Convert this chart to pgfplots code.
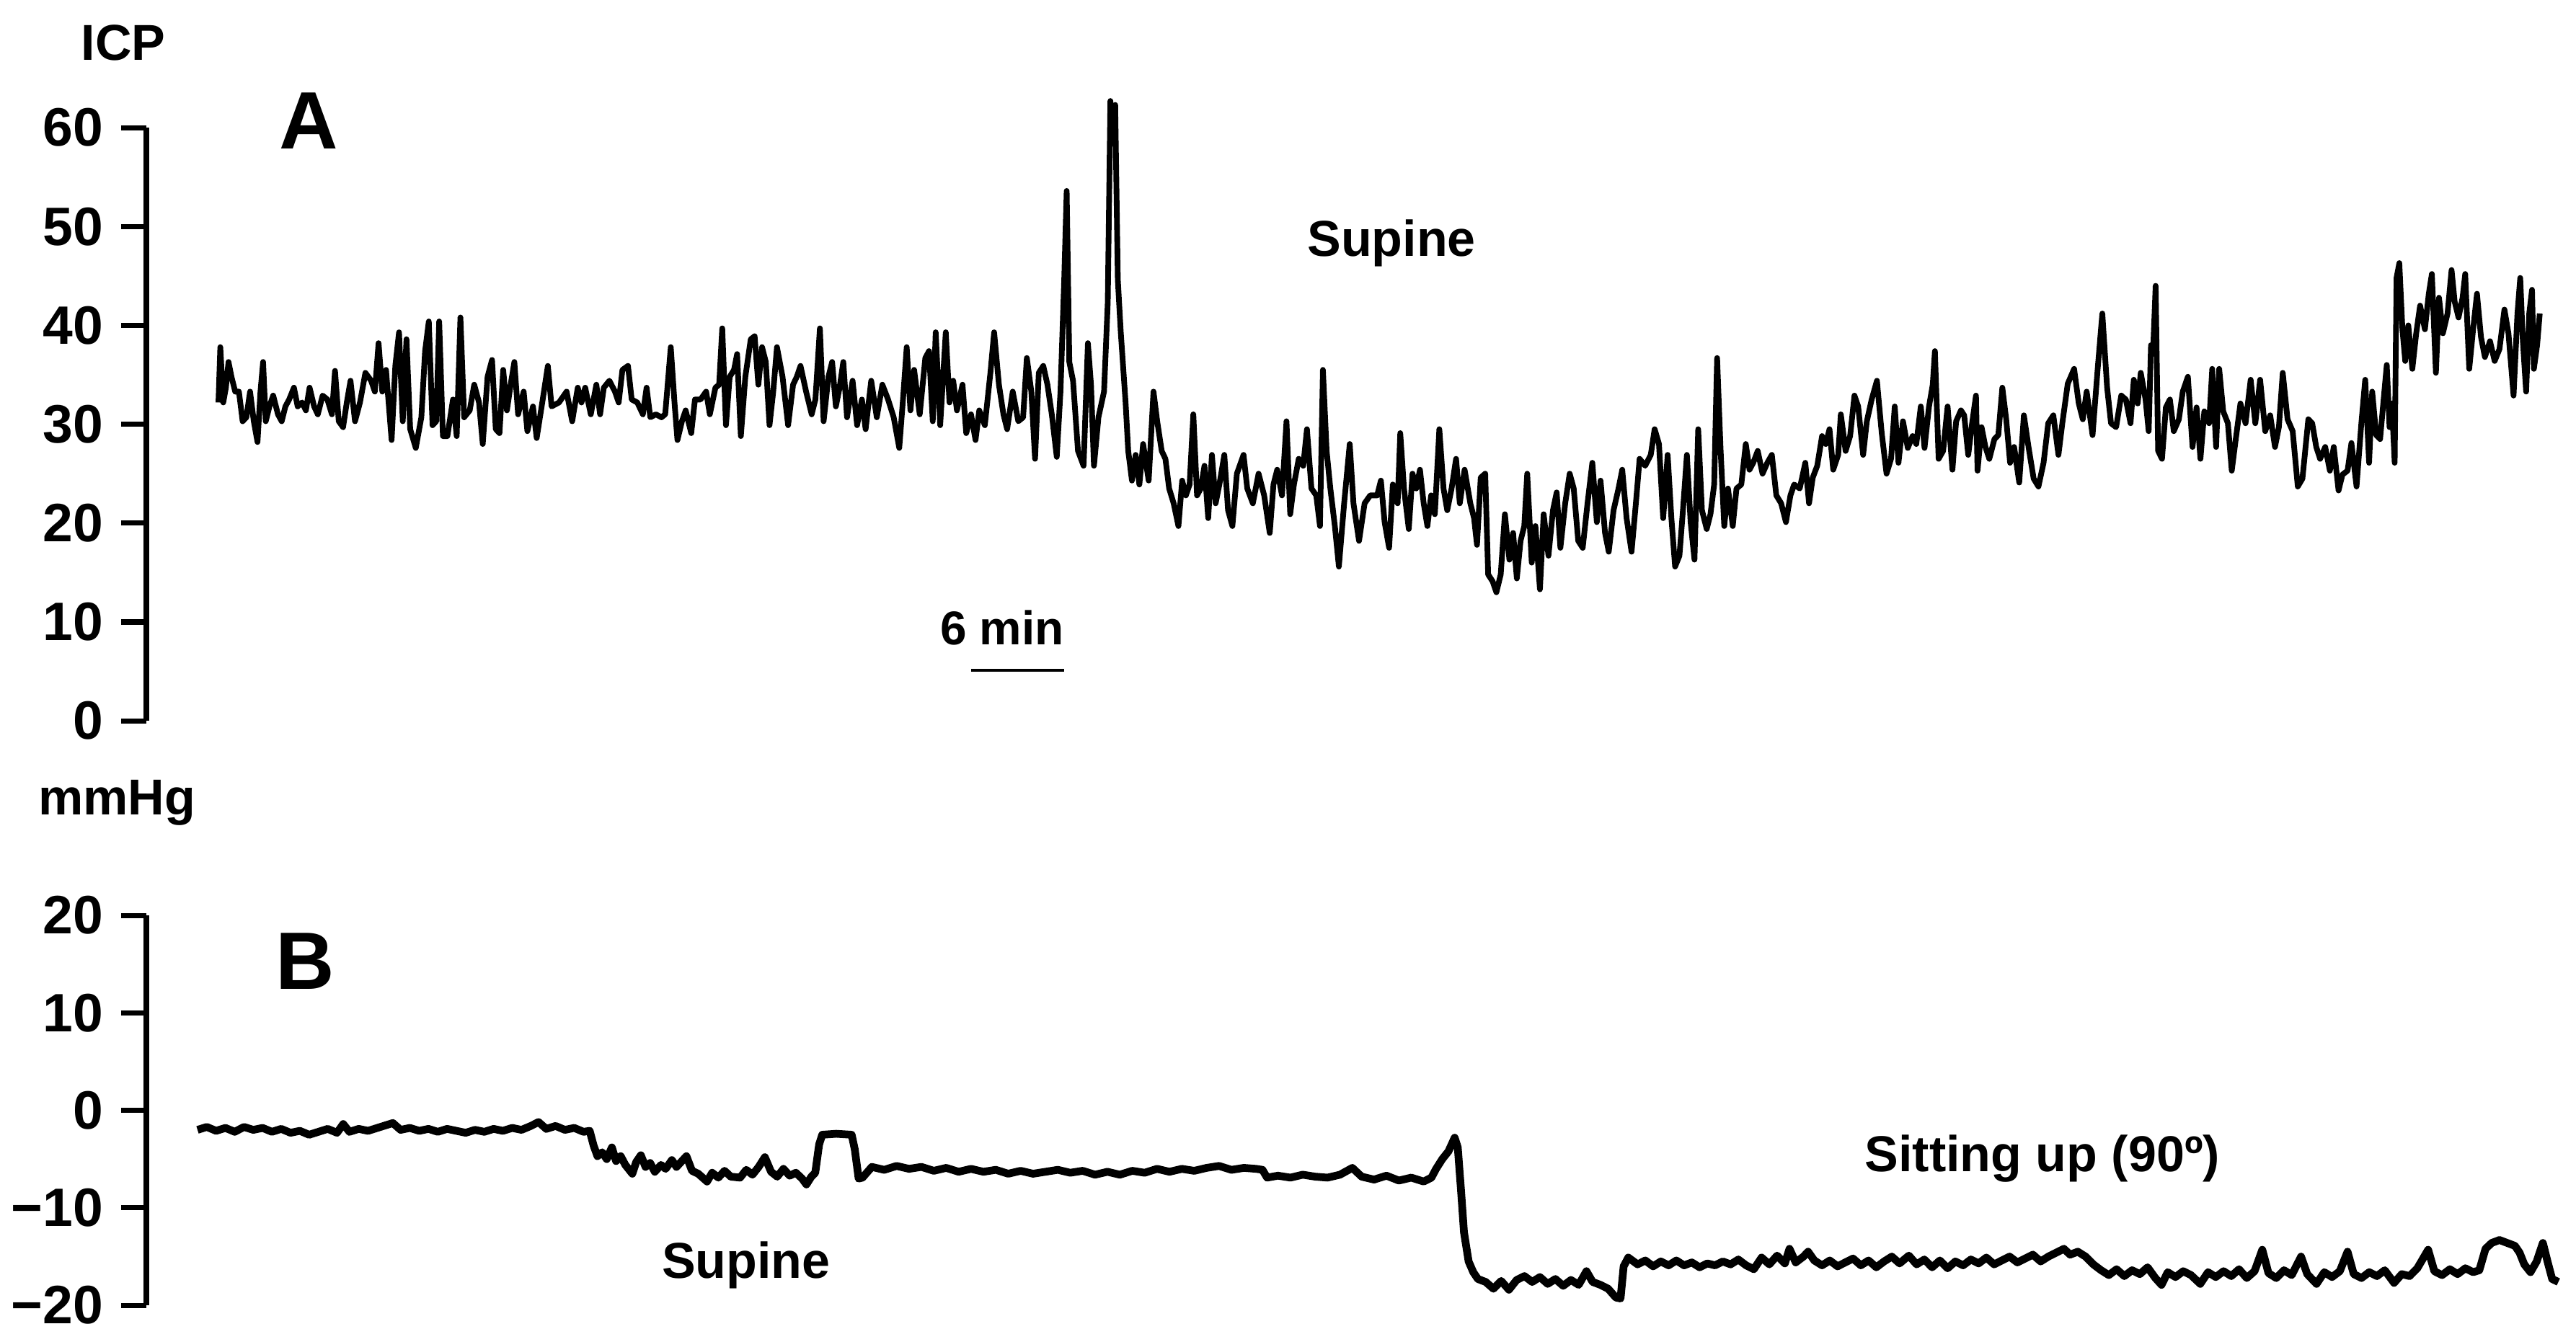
\documentclass[border=0pt]{standalone}
\usepackage{fontspec}
\setmainfont{Liberation Sans}
\usepackage{pgfplots}
\pgfplotsset{compat=1.18}
\begin{document}
\begin{tikzpicture}
\path[use as bounding box] (0,0) rectangle (500pt,260.44pt);
% ---------------- Panel A : ICP supine ----------------
\begin{axis}[
  at={(28.41pt,120.49pt)}, anchor=south west,
  scale only axis, width=471.59pt, height=115.17pt,
  xmin=0, xmax=156.74, ymin=0, ymax=60,
  axis x line=none, axis y line=left,
  y axis line style={-, line width=1pt},
  xtick=\empty,
  ytick={0,10,20,30,40,50,60}, yticklabels={0,10,20,30,40,50,60},
  tick align=outside, major tick length=4.9pt,
  every tick/.style={line width=1pt, black},
  yticklabel style={font=\fontsize{10.5}{12}\selectfont\bfseries, anchor=east, inner sep=0pt, xshift=-3.3pt},
  clip=false,
]
\addplot[black, line width=1.1pt, line join=round] table {
4.65 32.2
4.77 37.8
4.96 32.2
5.13 33.7
5.30 36.3
5.49 34.8
5.73 33.3
5.97 33.3
6.21 30.3
6.45 30.7
6.69 33.3
6.93 30.3
7.17 28.2
7.36 33.3
7.53 36.3
7.70 30.3
7.94 31.8
8.18 32.9
8.49 31.0
8.73 30.3
8.97 31.8
9.21 32.5
9.52 33.7
9.76 31.8
10.05 32.2
10.29 31.4
10.53 33.7
10.82 31.8
11.06 31.0
11.37 32.9
11.68 32.5
11.97 31.0
12.17 35.4
12.41 30.3
12.69 29.7
12.93 32.2
13.17 34.4
13.46 30.3
13.78 32.2
14.13 35.2
14.50 34.4
14.74 33.3
14.98 38.2
15.22 33.3
15.46 35.5
15.82 28.4
16.06 35.9
16.30 39.3
16.54 30.3
16.78 38.6
17.02 29.5
17.38 27.6
17.74 30.7
17.98 37.4
18.22 40.4
18.46 29.9
18.70 30.3
18.89 40.4
19.13 28.8
19.42 28.8
19.78 32.5
20.02 28.8
20.26 40.8
20.50 30.7
20.86 31.4
21.15 34.0
21.46 32.2
21.70 28.0
22.01 34.8
22.30 36.5
22.54 29.5
22.78 29.1
23.02 35.5
23.26 31.4
23.50 34.0
23.74 36.3
23.98 31.0
24.34 33.3
24.58 29.3
24.94 31.8
25.18 28.6
25.54 32.2
25.90 35.9
26.14 31.8
26.62 32.2
27.11 33.3
27.47 30.3
27.83 33.7
28.07 32.2
28.31 33.7
28.67 31.0
29.03 34.0
29.27 31.0
29.51 33.7
29.87 34.4
30.23 33.3
30.47 32.2
30.71 35.5
31.07 35.9
31.31 32.5
31.67 32.2
32.03 31.0
32.27 33.7
32.51 30.7
32.87 31.0
33.23 30.7
33.47 31.0
33.83 37.8
34.07 32.2
34.26 28.4
34.55 30.3
34.79 31.4
35.15 29.1
35.39 32.5
35.75 32.5
36.11 33.3
36.35 31.0
36.71 33.7
36.95 34.0
37.15 39.7
37.39 29.9
37.63 34.8
37.91 35.5
38.11 37.1
38.35 28.8
38.64 34.8
38.99 38.6
39.24 38.9
39.48 34.0
39.72 37.8
39.96 36.3
40.20 29.9
40.44 33.3
40.68 37.8
41.04 34.8
41.40 29.9
41.72 34.0
41.96 34.8
42.20 35.9
42.56 33.3
42.92 31.0
43.16 32.5
43.45 39.7
43.69 30.3
44.00 34.8
44.24 36.3
44.48 31.8
44.72 33.7
44.96 36.3
45.20 30.7
45.56 34.4
45.85 29.9
46.16 32.5
46.40 29.5
46.76 34.4
47.12 30.7
47.48 34.0
47.85 32.5
48.21 30.7
48.57 27.6
48.81 32.5
49.05 37.8
49.29 31.4
49.53 35.5
49.89 31.0
50.25 36.7
50.49 37.4
50.73 30.3
50.92 39.3
51.21 29.9
51.57 39.3
51.81 32.2
52.05 34.4
52.29 31.4
52.65 34.0
52.89 29.1
53.20 31.0
53.49 28.4
53.73 31.4
54.09 29.9
54.45 35.2
54.69 39.3
55.00 34.0
55.29 31.0
55.53 29.5
55.89 33.3
56.25 30.3
56.56 30.7
56.80 36.7
57.09 33.3
57.33 26.5
57.57 35.2
57.86 35.9
58.13 34.0
58.41 31.0
58.73 26.7
58.97 33.3
59.21 44.6
59.37 53.6
59.54 36.3
59.78 34.4
60.10 27.3
60.46 25.8
60.74 38.2
60.94 34.0
61.13 25.8
61.42 30.7
61.78 33.3
62.02 42.3
62.19 62.7
62.33 58.9
62.50 62.3
62.67 44.6
62.86 39.3
63.17 32.2
63.34 27.3
63.58 24.3
63.82 26.9
64.06 23.9
64.30 28.0
64.66 24.3
64.97 33.3
65.21 30.3
65.50 27.3
65.74 26.5
65.98 23.5
66.27 22.0
66.58 19.7
66.82 24.3
67.06 22.8
67.30 23.9
67.54 31.0
67.78 22.8
68.02 23.5
68.26 25.8
68.50 20.5
68.74 26.9
68.98 22.0
69.22 23.9
69.54 26.9
69.78 21.3
70.06 19.7
70.35 25.0
70.78 26.9
71.02 23.5
71.38 22.0
71.75 25.0
72.11 22.8
72.47 19.0
72.71 23.9
72.95 25.4
73.26 22.8
73.55 30.3
73.79 20.9
74.03 23.9
74.34 26.5
74.63 25.8
74.87 29.5
75.16 23.5
75.47 22.8
75.71 19.7
75.90 35.5
76.14 27.3
76.38 23.5
76.67 19.7
76.93 15.6
77.27 22.0
77.63 28.0
77.87 22.0
78.23 18.2
78.59 22.0
78.95 22.8
79.40 22.8
79.64 24.3
79.88 20.1
80.17 17.5
80.41 23.9
80.72 22.0
80.89 29.1
81.13 23.5
81.44 19.4
81.68 25.0
81.92 23.5
82.16 25.4
82.40 22.0
82.64 19.7
82.88 22.8
83.12 20.9
83.41 29.5
83.68 23.5
83.92 21.3
84.20 23.5
84.49 26.5
84.73 22.0
85.04 25.4
85.41 22.0
85.65 20.5
85.84 17.8
86.08 24.6
86.37 25.0
86.56 14.8
86.85 14.1
87.09 13.0
87.37 14.8
87.64 20.9
87.93 16.3
88.17 19.0
88.41 14.4
88.65 18.2
88.89 19.7
89.08 25.0
89.37 16.0
89.61 19.7
89.90 13.3
90.14 20.9
90.45 16.7
90.74 21.3
90.98 23.1
91.22 17.5
91.53 22.0
91.82 25.0
92.08 23.5
92.37 18.2
92.66 17.5
92.97 22.0
93.28 26.1
93.57 20.1
93.81 24.3
94.10 19.0
94.34 17.1
94.65 21.3
94.97 23.5
95.21 25.4
95.49 20.5
95.81 17.1
96.09 22.0
96.33 26.5
96.69 25.8
97.05 26.9
97.30 29.5
97.58 28.0
97.85 20.5
98.14 26.9
98.38 20.5
98.62 15.6
98.90 16.7
99.14 21.6
99.38 26.9
99.62 20.1
99.87 16.3
100.11 29.5
100.35 21.3
100.66 19.4
100.90 20.9
101.14 23.9
101.33 36.7
101.55 27.6
101.79 19.7
102.03 23.5
102.34 19.7
102.58 23.5
102.89 23.9
103.18 28.0
103.42 25.4
103.66 26.1
103.95 27.3
104.26 25.0
104.57 26.1
104.86 26.9
105.15 22.8
105.46 22.0
105.77 20.1
106.06 22.8
106.30 23.9
106.66 23.5
107.02 26.1
107.26 22.0
107.50 24.6
107.79 25.8
108.10 28.8
108.34 28.0
108.58 29.5
108.82 25.4
109.14 26.9
109.31 31.0
109.62 27.3
109.91 28.8
110.19 32.9
110.43 31.8
110.75 26.9
110.99 30.3
111.30 32.5
111.64 34.4
111.95 29.1
112.26 25.0
112.55 26.5
112.79 31.8
113.03 26.1
113.32 30.3
113.63 27.6
113.94 28.8
114.18 28.0
114.47 31.8
114.71 27.6
115.00 31.8
115.24 34.0
115.38 37.4
115.62 26.5
115.91 27.3
116.20 31.8
116.51 25.4
116.75 30.3
117.06 31.4
117.27 30.9
117.53 26.9
117.78 30.1
118.03 32.9
118.13 25.3
118.39 29.7
118.64 27.7
118.89 26.5
119.22 28.5
119.47 28.9
119.73 33.7
119.98 30.5
120.23 26.1
120.49 27.7
120.82 24.1
121.12 30.9
121.42 27.7
121.75 24.5
122.06 23.7
122.39 26.1
122.69 30.1
123.02 30.9
123.35 26.9
123.60 30.1
123.95 34.1
124.36 35.6
124.66 32.1
124.92 30.5
125.17 33.3
125.55 28.9
125.88 35.6
126.18 41.2
126.49 33.7
126.74 30.1
127.07 29.7
127.40 32.9
127.70 32.5
128.00 30.1
128.21 34.5
128.46 32.1
128.66 35.2
128.97 32.5
129.17 29.3
129.32 38.0
129.47 38.0
129.62 44.0
129.78 27.3
130.03 26.5
130.28 31.7
130.54 32.5
130.79 29.3
131.12 30.5
131.37 33.3
131.70 34.8
132.00 27.7
132.26 31.7
132.51 26.5
132.76 31.3
133.07 30.1
133.27 35.6
133.52 27.7
133.72 35.6
133.98 31.3
134.28 30.1
134.53 25.3
134.79 28.5
135.09 32.1
135.42 30.1
135.75 34.5
136.05 30.1
136.36 34.5
136.69 29.3
137.01 30.9
137.32 27.7
137.57 29.7
137.82 35.2
138.13 30.5
138.46 29.3
138.79 23.7
139.09 24.5
139.47 30.5
139.72 30.1
139.98 27.7
140.23 26.5
140.56 27.7
140.86 25.3
141.11 27.7
141.42 23.3
141.67 24.9
142.00 25.3
142.25 28.1
142.58 23.7
142.89 30.1
143.14 34.5
143.39 26.1
143.59 33.3
143.85 28.9
144.10 28.5
144.35 32.9
144.53 36.0
144.71 29.7
144.86 32.1
145.04 26.1
145.16 44.8
145.34 46.3
145.54 39.6
145.72 36.4
145.92 40.0
146.18 35.6
146.43 39.2
146.68 42.0
146.99 39.6
147.24 43.2
147.44 45.2
147.70 35.2
147.90 42.8
148.15 39.2
148.45 41.2
148.71 45.6
148.91 42.4
149.16 40.8
149.42 42.8
149.59 45.2
149.85 35.6
150.10 39.6
150.35 43.2
150.61 38.8
150.86 36.8
151.19 38.4
151.49 36.4
151.80 37.6
152.12 41.6
152.38 39.2
152.71 32.9
152.96 41.2
153.14 44.8
153.31 38.4
153.52 33.3
153.72 41.2
153.90 43.6
154.02 35.6
154.23 38.0
154.40 41.2
};
% 6 min scale bar
\addplot[black, line width=0.6pt] coordinates {(53.2,5.1) (59.2,5.1)};
\end{axis}
% ---------------- Panel B ----------------
\begin{axis}[
  at={(28.41pt,7.0pt)}, anchor=south west,
  scale only axis, width=471.59pt, height=75.70pt,
  xmin=0, xmax=156.74, ymin=-20, ymax=20,
  axis x line=none, axis y line=left,
  y axis line style={-, line width=1pt},
  xtick=\empty,
  ytick={-20,-10,0,10,20}, yticklabels={−20,−10,0,10,20},
  tick align=outside, major tick length=4.9pt,
  every tick/.style={line width=1pt, black},
  yticklabel style={font=\fontsize{10.5}{12}\selectfont\bfseries, anchor=east, inner sep=0pt, xshift=-3.3pt},
  clip=false,
]
\addplot[black, line width=1.5pt, line join=round] table {
3.3 -2.0
3.9 -1.7
4.5 -2.1
5.1 -1.8
5.7 -2.2
6.3 -1.7
6.9 -2.0
7.5 -1.8
8.1 -2.2
8.7 -1.9
9.3 -2.3
9.9 -2.1
10.5 -2.5
11.1 -2.2
11.7 -1.9
12.3 -2.3
12.7 -1.4
13.1 -2.2
13.7 -1.9
14.3 -2.1
14.9 -1.8
15.5 -1.5
15.9 -1.3
16.4 -2.0
17.0 -1.8
17.6 -2.1
18.2 -1.9
18.8 -2.2
19.4 -1.9
20.0 -2.1
20.6 -2.3
21.2 -2.0
21.8 -2.2
22.4 -1.9
23.0 -2.1
23.6 -1.8
24.2 -2.0
24.8 -1.6
25.3 -1.2
25.8 -1.9
26.4 -1.6
27.0 -2.0
27.6 -1.8
28.2 -2.2
28.6 -2.1
28.85 -3.6
29.1 -4.7
29.4 -4.3
29.7 -5.0
30.03 -3.8
30.3 -5.2
30.6 -4.7
30.9 -5.6
31.35 -6.5
31.6 -5.3
31.9 -4.6
32.2 -5.8
32.5 -5.4
32.8 -6.3
33.2 -5.6
33.5 -6.0
33.9 -5.1
34.2 -5.8
34.84 -4.7
35.2 -6.2
35.6 -6.5
36.17 -7.3
36.5 -6.4
36.9 -6.9
37.3 -6.2
37.7 -6.8
38.3 -6.9
38.7 -6.1
39.1 -6.6
39.5 -5.8
39.9 -4.8
40.3 -6.3
40.7 -6.8
41.1 -6.0
41.5 -6.7
41.9 -6.4
42.3 -7.0
42.58 -7.6
42.9 -6.8
43.15 -6.4
43.4 -3.5
43.6 -2.5
44.5 -2.4
45.5 -2.5
45.7 -4.0
45.95 -7.0
46.2 -6.9
46.8 -5.8
47.6 -6.1
48.4 -5.7
49.2 -6.0
50.0 -5.8
50.8 -6.2
51.6 -5.9
52.4 -6.3
53.2 -6.0
54.0 -6.3
54.8 -6.1
55.6 -6.5
56.4 -6.2
57.2 -6.5
58.0 -6.3
58.8 -6.1
59.6 -6.4
60.4 -6.2
61.2 -6.6
62.0 -6.3
62.8 -6.6
63.6 -6.2
64.4 -6.4
65.2 -6.0
66.0 -6.3
66.8 -6.0
67.6 -6.2
68.4 -5.9
69.2 -5.7
70.0 -6.1
70.8 -5.9
71.6 -6.0
72.0 -6.1
72.3 -6.9
73.0 -6.7
73.8 -6.9
74.6 -6.6
75.4 -6.8
76.2 -6.9
77.0 -6.6
77.8 -5.9
78.4 -6.8
79.2 -7.1
80.0 -6.7
80.8 -7.2
81.6 -6.9
82.4 -7.3
82.9 -6.9
83.2 -6.0
83.6 -5.0
84.0 -4.2
84.4 -2.8
84.6 -3.8
84.8 -8.0
85.0 -12.5
85.3 -15.5
85.6 -16.6
85.9 -17.3
86.4 -17.6
86.9 -18.3
87.4 -17.5
87.9 -18.4
88.4 -17.4
88.9 -17.0
89.4 -17.6
89.9 -17.1
90.4 -17.8
90.9 -17.3
91.4 -18.0
91.9 -17.4
92.4 -17.9
92.9 -16.5
93.3 -17.6
93.8 -17.9
94.3 -18.3
94.8 -19.2
95.1 -19.3
95.3 -16.0
95.6 -15.1
96.2 -15.8
96.7 -15.4
97.2 -16.0
97.7 -15.5
98.2 -15.9
98.7 -15.4
99.2 -15.9
99.7 -15.6
100.2 -16.1
100.7 -15.7
101.2 -15.9
101.7 -15.5
102.2 -15.8
102.7 -15.3
103.2 -15.9
103.7 -16.3
104.2 -15.1
104.7 -15.8
105.2 -14.9
105.7 -15.7
106.0 -14.2
106.4 -15.6
106.9 -15.0
107.2 -14.5
107.6 -15.4
108.1 -15.9
108.6 -15.4
109.1 -16.0
109.6 -15.6
110.1 -15.2
110.6 -15.9
111.1 -15.4
111.6 -16.1
112.1 -15.5
112.6 -15.0
113.1 -15.7
113.7 -14.9
114.2 -15.8
114.7 -15.3
115.2 -16.1
115.7 -15.4
116.2 -16.2
116.7 -15.5
117.2 -15.9
117.7 -15.3
118.2 -15.7
118.7 -15.1
119.2 -15.8
119.7 -15.4
120.2 -15.0
120.7 -15.6
121.2 -15.2
121.7 -14.8
122.2 -15.5
122.7 -15.0
123.2 -14.6
123.7 -14.2
124.1 -14.8
124.6 -14.5
125.1 -15.0
125.6 -15.8
126.1 -16.4
126.6 -16.9
127.1 -16.3
127.6 -17.0
128.1 -16.4
128.6 -16.8
129.1 -16.1
129.6 -17.2
130.0 -17.9
130.4 -16.6
130.9 -17.1
131.4 -16.5
131.9 -16.9
132.5 -17.8
133.0 -16.6
133.5 -17.1
134.0 -16.5
134.5 -17.0
135.0 -16.3
135.5 -17.2
136.0 -16.5
136.5 -14.3
136.9 -16.7
137.4 -17.2
137.9 -16.4
138.4 -16.9
139.0 -15.0
139.4 -16.8
140.0 -17.8
140.5 -16.6
141.0 -17.1
141.5 -16.5
142.0 -14.5
142.4 -16.8
142.9 -17.2
143.4 -16.6
143.9 -17.0
144.4 -16.4
145.0 -17.7
145.5 -16.8
146.0 -17.0
146.5 -16.2
147.2 -14.3
147.6 -16.5
148.1 -16.9
148.6 -16.3
149.1 -16.8
149.6 -16.2
150.1 -16.6
150.5 -16.4
150.9 -14.2
151.3 -13.6
151.8 -13.3
152.3 -13.6
152.8 -13.9
153.1 -14.6
153.4 -15.8
153.8 -16.6
154.2 -15.5
154.6 -13.6
154.9 -15.5
155.2 -17.3
155.6 -17.6
};
\end{axis}
% ---------------- Text ----------------
\node[anchor=base, inner sep=0pt, font=\fontsize{9.8}{11}\selectfont\bfseries] at (23.93pt,248.8pt) {ICP};
\node[anchor=base, inner sep=0pt, font=\fontsize{9.8}{11}\selectfont\bfseries] at (22.7pt,102.3pt) {mmHg};
\node[anchor=base, inner sep=0pt, font=\fontsize{15.8}{17}\selectfont\bfseries] at (59.9pt,231.5pt) {A};
\node[anchor=base, inner sep=0pt, font=\fontsize{15.8}{17}\selectfont\bfseries] at (59.3pt,68.4pt) {B};
\node[anchor=base, inner sep=0pt, font=\fontsize{9.8}{11}\selectfont\bfseries] at (270.1pt,210.7pt) {Supine};
\node[anchor=base, inner sep=0pt, font=\fontsize{9.2}{11}\selectfont\bfseries] at (194.5pt,135.3pt) {6 min};
\node[anchor=base, inner sep=0pt, font=\fontsize{9.8}{11}\selectfont\bfseries] at (144.8pt,12.3pt) {Supine};
\node[anchor=base, inner sep=0pt, font=\fontsize{9.8}{11}\selectfont\bfseries] at (396.4pt,33.0pt) {Sitting up (90º)};
\end{tikzpicture}
\end{document}
